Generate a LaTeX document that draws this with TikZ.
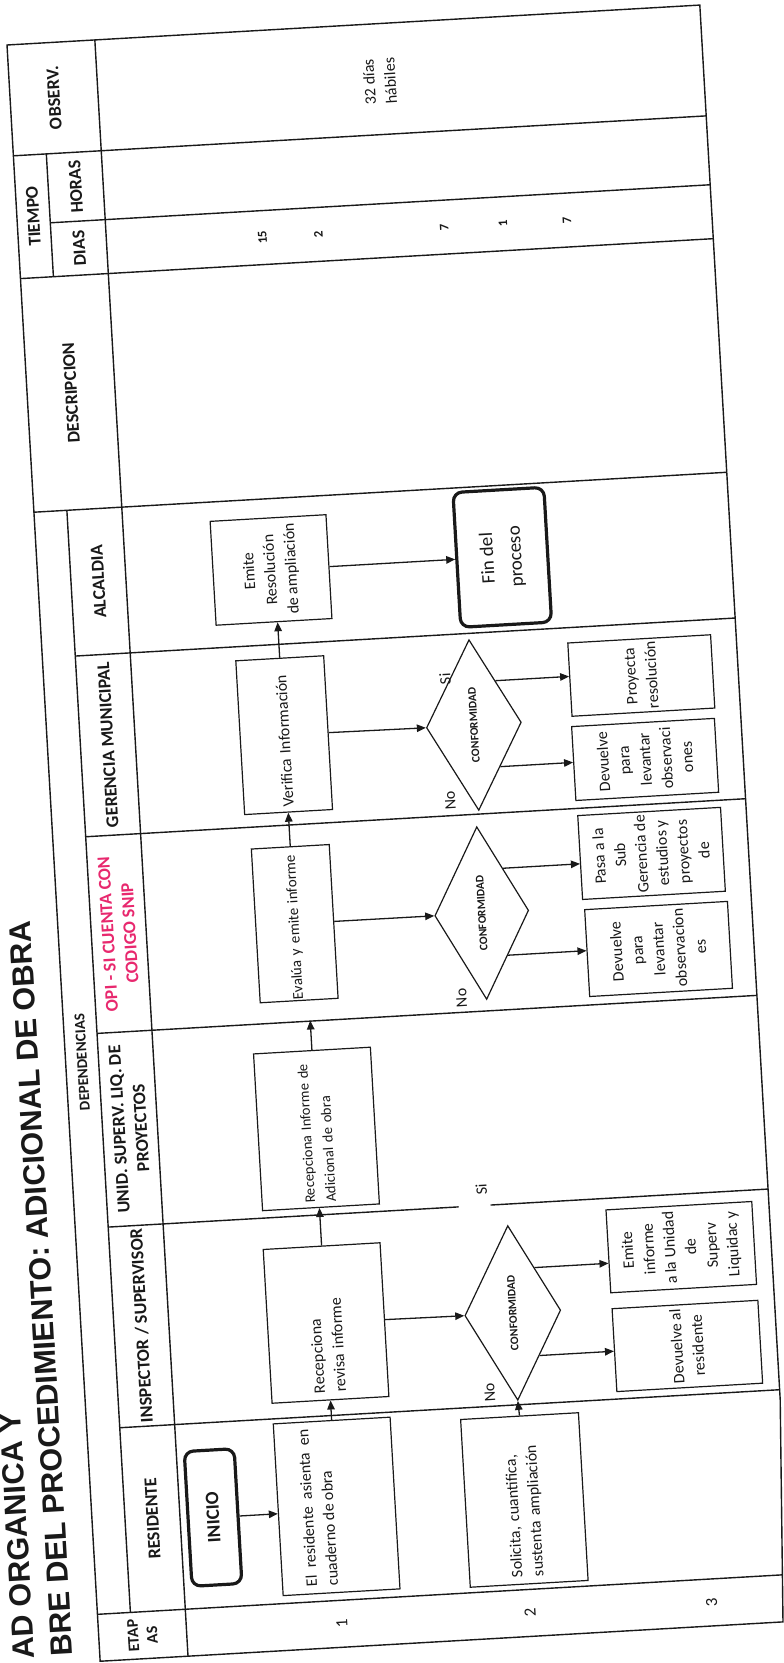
\documentclass[tikz,border=0pt]{standalone}
\usepackage{fontspec}
\setmainfont{Carlito}
\newfontfamily\titlefont{Liberation Sans}
\usetikzlibrary{shapes.geometric,arrows.meta,calc}
\definecolor{opired}{RGB}{232,40,110}
\definecolor{ink}{RGB}{25,25,25}
\newcommand{\fbody}{\fontsize{16}{21}\selectfont}
\newcommand{\fhead}{\fontsize{18}{22}\selectfont\bfseries}
\begin{document}
\begin{tikzpicture}[x=1pt,y=1pt,
  every node/.style={text=ink},
  tline/.style={draw=ink,line width=1.4pt},
  pbox/.style={draw=ink,line width=1.2pt,inner xsep=7pt,inner ysep=3pt,font=\fbody},
  term/.style={draw=ink,line width=3.2pt,rounded corners=9pt,inner sep=2pt},
  dec/.style={draw=ink,line width=1.2pt,shape=diamond,inner sep=0pt,font=\fontsize{11.5}{13}\selectfont\bfseries},
  hdr/.style={font=\fhead,align=center,inner sep=1pt},
  lbl/.style={font=\fbody,inner sep=1pt},
  arr/.style={draw=ink,line width=1.3pt,-{Triangle[length=9pt,width=7.5pt]}},
]
\fill[white] (0,0) rectangle (784,-1663);
\useasboundingbox (0,0) rectangle (784,-1663);
\begin{scope}[shift={(7,-45)},rotate=3.3,shift={(0,-1619)},rotate=90,transform shape]
% ---------- titles ----------
\node[anchor=base west,inner sep=0,font={\titlefont\bfseries\fontsize{30.5}{32}\selectfont}] (t1) at (6,65) {AD ORGANICA Y};
\node[anchor=base west,inner sep=0,font={\titlefont\bfseries\fontsize{30.5}{32}\selectfont}] (t2) at (7,27) {BRE DEL PROCEDIMIENTO: ADICIONAL DE OBRA};
% ---------- table ----------
\draw[tline] (222,-694) -- (1619,-694) -- (1619,0) -- (0,0) -- (0,-684) -- cycle;
\draw[tline] (0,-88) -- (1619,-88);
\draw[tline] (47,-33) -- (1151,-33);
\draw[tline] (1385,-33) -- (1508,-33);
\draw[tline] (47,0) -- (47,-685.5);
\draw[tline] (232,-33) -- (232,-694);
\draw[tline] (433,-33) -- (433,-384);
\draw[tline] (433,-416) -- (433,-694);
\draw[tline] (627,-33) -- (627,-694);
\draw[tline] (824,-33) -- (824,-694);
\draw[tline] (1005,-33) -- (1005,-694);
\draw[tline] (1151,0) -- (1151,-694);
\draw[tline] (1385,0) -- (1385,-694);
\draw[tline] (1439,-33) -- (1439,-694);
\draw[tline] (1508,0) -- (1508,-694);
% ---------- headers ----------
\node[hdr,font=\fontsize{16}{19}\selectfont\bfseries] (hEt) at (23.5,-44) {ETAP\\AS};
\node[hdr] (hRe) at (139.5,-60.5) {RESIDENTE};
\node[hdr] (hIn) at (332.5,-60.5) {INSPECTOR / SUPERVISOR};
\node[hdr] (hUn) at (530,-60.5) {UNID. SUPERV. LIQ. DE\\PROYECTOS};
\node[hdr,text=opired] (hOp) at (725.5,-60.5) {OPI - SI CUENTA CON\\CODIGO SNIP};
\node[hdr] (hGe) at (914.5,-60.5) {GERENCIA MUNICIPAL};
\node[hdr] (hAl) at (1078,-60.5) {ALCALDIA};
\node[hdr,font=\fontsize{15}{18}\selectfont\bfseries] (hDe) at (599,-16.5) {DEPENDENCIAS};
\node[hdr] (hDs) at (1268,-44) {DESCRIPCION};
\node[hdr] (hTi) at (1446.5,-16.5) {TIEMPO};
\node[hdr] (hDi) at (1412,-60.5) {DIAS};
\node[hdr] (hHo) at (1473.5,-60.5) {HORAS};
\node[hdr] (hOb) at (1563.5,-44) {OBSERV.};
% ---------- row numbers ----------
\node[font=\fontsize{17}{20}\selectfont] (n1) at (23.5,-243.5) {1};
\node[font=\fontsize{17}{20}\selectfont] (n2) at (23.5,-432) {2};
\node[font=\fontsize{17}{20}\selectfont] (n3) at (23.5,-614) {3};
% ---------- dias / observ ----------
\node[font=\fontsize{13}{15}\selectfont\bfseries] (dA) at (1412,-244) {15};
\node[font=\fontsize{13}{15}\selectfont\bfseries] (dB) at (1412,-300) {2};
\node[font=\fontsize{13}{15}\selectfont\bfseries] (dC) at (1412,-426) {7};
\node[font=\fontsize{13}{15}\selectfont\bfseries] (dD) at (1412,-485) {1};
\node[font=\fontsize{13}{15}\selectfont\bfseries] (dE) at (1412,-549) {7};
\node[align=center,font=\fbody] (obs) at (1561,-370) {32 días\\hábiles};
% ---------- residente ----------
\node[term,minimum width=135,minimum height=50,font=\fontsize{19}{22}\selectfont\bfseries] (ini) at (137,-121) {INICIO};
\node[pbox,minimum width=172,minimum height=117,text width=158,align=justify] (r1) at (141,-245) {El residente asienta en cuaderno de obra\par\vspace{38pt}};
\node[pbox,minimum width=168,minimum height=118,text width=154,align=left] (sol) at (136.6,-432.8) {Solicita, cuantifica,\\sustenta ampliación};
% ---------- inspector ----------
\node[pbox,minimum width=154,minimum height=117,text width=140,align=left] (rr) at (324.7,-245) {Recepciona\\revisa informe};
\node[dec,minimum width=175,minimum height=96] (d1) at (324,-432) {CONFORMIDAD};
\node[pbox,minimum width=83,minimum height=146,align=center,inner xsep=3pt] (dev1) at (281,-604.4) {Devuelve al\\residente};
\node[pbox,minimum width=83,minimum height=146,align=center,inner xsep=3pt] (em1) at (380,-604) {Emite\\informe\\a la Unidad\\de\\Superv\\Liquidac y};
% ---------- unid ----------
\node[pbox,minimum width=157,minimum height=117,text width=147,inner xsep=5pt,align=left,font=\fontsize{14.5}{21}\selectfont] (ri) at (519,-246.6) {Recepciona Informe de\\Adicional de obra};
% ---------- opi ----------
\node[pbox,minimum width=154,minimum height=78,text width=152,inner xsep=1pt,align=left,font=\fontsize{15}{21}\selectfont] (ev) at (725.2,-236.7) {\mbox{Evalúa y emite informe}};
\node[dec,minimum width=173,minimum height=94] (d2) at (725,-424) {CONFORMIDAD};
\node[pbox,minimum width=87,minimum height=143,align=center,inner xsep=3pt] (dev2) at (679,-598.5) {Devuelve\\para\\levantar\\observacion\\es};
\node[pbox,minimum width=84,minimum height=143,align=center,inner xsep=2pt] (pasa) at (774.8,-597) {Pasa a la\\Sub\\Gerencia de\\estudios y\\proyectos\\de};
% ---------- gerencia ----------
\node[pbox,minimum width=154,minimum height=88,text width=144,inner xsep=5pt,align=left] (vi) at (914,-237) {Verifica Información};
\node[dec,minimum width=171,minimum height=95] (d3) at (913.2,-427) {CONFORMIDAD};
\node[pbox,minimum width=74,minimum height=143,align=center,inner xsep=3pt] (dev3) at (869,-596) {Devuelve\\para\\levantar\\observaci\\ones};
\node[pbox,minimum width=73,minimum height=143,align=center,inner xsep=3pt] (proy) at (953,-597) {Proyecta\\resolución};
% ---------- alcaldia ----------
\node[pbox,minimum width=104,minimum height=116,align=center,inner xsep=3pt] (er) at (1079.7,-233.4) {Emite\\Resolución\\de ampliación};
\node[term,minimum width=135,minimum height=91,align=center,font=\fontsize{19}{28}\selectfont] (fin) at (1079,-465) {Fin del\\proceso};
% ---------- labels ----------
\node[lbl] (lNo1) at (245.8,-404.4) {No};
\node[lbl] (lSi1) at (448.8,-407.6) {Si};
\node[lbl] (lNo2) at (641.4,-399) {No};
\node[lbl] (lSi3) at (960.8,-400.8) {Si};
\node[lbl] (lNo3) at (839,-399) {No};
% ---------- arrows ----------
\draw[arr] (ini.south) -- ($(r1.north west)!(ini.south)!(r1.north east)$);
\draw[arr] (r1.east) -- ($(rr.south west)!(r1.east)!(rr.north west)$);
\draw[arr] (rr.south) -- (d1.north);
\draw[arr] (sol.east) -- (d1.west);
\draw[arr] (d1.south west) -- ($(dev1.north west)!(d1.south west)!(dev1.north east)$);
\draw[arr] (d1.south east) -- ($(em1.north west)!(d1.south east)!(em1.north east)$);
\draw[arr] (rr.east) -- ($(ri.south west)!(rr.east)!(ri.north west)$);
\draw[arr,shorten >=20pt] (ri.east) -- ($(ev.south west)!(ri.east)!(ev.north west)$);
\draw[arr] (ev.south) -- (d2.north);
\draw[arr] (d2.south west) -- ($(dev2.north west)!(d2.south west)!(dev2.north east)$);
\draw[arr] (d2.south east) -- ($(pasa.north west)!(d2.south east)!(pasa.north east)$);
\draw[arr] (ev.east) -- ($(vi.south west)!(ev.east)!(vi.north west)$);
\draw[arr] (vi.south) -- (d3.north);
\draw[arr] (d3.south west) -- ($(dev3.north west)!(d3.south west)!(dev3.north east)$);
\draw[arr] (d3.south east) -- ($(proy.north west)!(d3.south east)!(proy.north east)$);
\draw[arr] (vi.east) -- ($(er.south west)!(vi.east)!(er.north west)$);
\draw[arr] (er.south) -- ($(fin.north west)!(er.south)!(fin.north east)$);
\end{scope}
\end{tikzpicture}
\end{document}
